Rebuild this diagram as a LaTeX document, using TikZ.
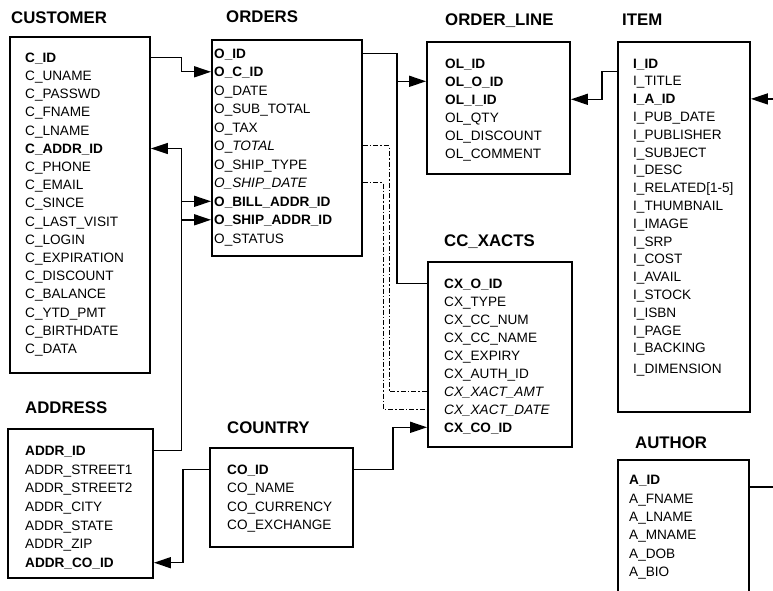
\documentclass[tikz,border=0pt]{standalone}
\usepackage{fontspec}
\setmainfont{Liberation Sans}
\usetikzlibrary{arrows.meta,fit,calc}
\begin{document}
\begin{tikzpicture}[x=1pt,y=-1pt,
  tbl/.style={draw, line width=1.8pt, inner sep=0pt},
  row/.style={anchor=west, inner sep=0pt, text height=9.7pt, text depth=0pt, font=\fontsize{13.6}{15}\selectfont},
  key/.style={row, font=\fontsize{13.6}{15}\selectfont\bfseries},
  ttl/.style={anchor=west, inner sep=0pt, text height=12pt, text depth=0pt, font=\fontsize{16.8}{19}\selectfont\bfseries},
  conn/.style={line width=1.4pt},
  arr/.style={conn, -{Triangle[length=17pt,width=11pt]}},
  dd/.style={line width=1pt, dash pattern=on 5pt off 2pt on 1.5pt off 2pt}]
\useasboundingbox (0,0) rectangle (773,591);
\fill[white] (0,0) rectangle (773,591);

% ---------- boxes ----------
\node[tbl, fit={(10,37) (150,373)}] (cust) {};
\node[tbl, fit={(212,40) (362,256)}] (ord) {};
\node[tbl, fit={(427,42) (570,174)}] (ol) {};
\node[tbl, fit={(618,42) (750,412)}] (item) {};
\node[tbl, fit={(428,262) (572,447)}] (cc) {};
\node[tbl, fit={(8,429) (153,578)}] (addr) {};
\node[tbl, fit={(210,448) (353,547)}] (ctry) {};
\node[tbl, fit={(618,460) (749,620)}] (auth) {};

% ---------- titles ----------
\node[ttl] (t_cust) at (11,17.5) {CUSTOMER};
\node[ttl] (t_ord) at (226,17) {ORDERS};
\node[ttl] (t_ol) at (445,20) {ORDER\_LINE};
\node[ttl] (t_item) at (622,20) {ITEM};
\node[ttl] (t_cc) at (444,240) {CC\_XACTS};
\node[ttl] (t_addr) at (25,407) {ADDRESS};
\node[ttl] (t_ctry) at (227,427) {COUNTRY};
\node[ttl] (t_auth) at (635,442) {AUTHOR};

% ---------- CUSTOMER ----------
\node[key] (c_id) at (25,57.5) {C\_ID};
\node[row] (c_uname) at (25,75.7) {C\_UNAME};
\node[row] (c_passwd) at (25,93.9) {C\_PASSWD};
\node[row] (c_fname) at (25,112.1) {C\_FNAME};
\node[row] (c_lname) at (25,130.3) {C\_LNAME};
\node[key] (c_addr_id) at (25,148.5) {C\_ADDR\_ID};
\node[row] (c_phone) at (25,166.7) {C\_PHONE};
\node[row] (c_email) at (25,184.9) {C\_EMAIL};
\node[row] (c_since) at (25,203.1) {C\_SINCE};
\node[row] (c_last) at (25,221.3) {C\_LAST\_VISIT};
\node[row] (c_login) at (25,239.5) {C\_LOGIN};
\node[row] (c_exp) at (25,257.7) {C\_EXPIRATION};
\node[row] (c_disc) at (25,275.9) {C\_DISCOUNT};
\node[row] (c_bal) at (25,294.1) {C\_BALANCE};
\node[row] (c_ytd) at (25,312.3) {C\_YTD\_PMT};
\node[row] (c_birth) at (25,330.5) {C\_BIRTHDATE};
\node[row] (c_data) at (25,348.7) {C\_DATA};

% ---------- ORDERS ----------
\node[key] (o_id) at (214,53.3) {O\_ID};
\node[key] (o_c_id) at (214,71.8) {O\_C\_ID};
\node[row] (o_date) at (214,90.3) {O\_DATE};
\node[row] (o_sub) at (214,108.8) {O\_SUB\_TOTAL};
\node[row] (o_tax) at (214,127.3) {O\_TAX};
\node[row] (o_total) at (214,145.8) {O\_\textit{TOTAL}};
\node[row] (o_stype) at (214,164.3) {O\_SHIP\_TYPE};
\node[row] (o_sdate) at (214,182.8) {\textit{O\_SHIP\_DATE}};
\node[key] (o_bill) at (214,201.3) {O\_BILL\_ADDR\_ID};
\node[key] (o_ship) at (214,219.8) {O\_SHIP\_ADDR\_ID};
\node[row] (o_status) at (214,238.3) {O\_STATUS};

% ---------- ORDER_LINE ----------
\node[key] (ol_id) at (445,63.3) {OL\_ID};
\node[key] (ol_o_id) at (445,81.3) {OL\_O\_ID};
\node[key] (ol_i_id) at (445,99.3) {OL\_I\_ID};
\node[row] (ol_qty) at (445,117.3) {OL\_QTY};
\node[row] (ol_disc) at (445,135.3) {OL\_DISCOUNT};
\node[row] (ol_comm) at (445,153.3) {OL\_COMMENT};

% ---------- ITEM ----------
\node[key] (i_id) at (633,63.3) {I\_ID};
\node[row] (i_title) at (633,81.1) {I\_TITLE};
\node[key] (i_a_id) at (633,98.9) {I\_A\_ID};
\node[row] (i_pub) at (633,116.7) {I\_PUB\_DATE};
\node[row] (i_publ) at (633,134.5) {I\_PUBLISHER};
\node[row] (i_subj) at (633,152.3) {I\_SUBJECT};
\node[row] (i_desc) at (633,170.1) {I\_DESC};
\node[row] (i_rel) at (633,187.9) {I\_RELATED[1-5]};
\node[row] (i_thumb) at (633,205.7) {I\_THUMBNAIL};
\node[row] (i_image) at (633,223.5) {I\_IMAGE};
\node[row] (i_srp) at (633,241.3) {I\_SRP};
\node[row] (i_cost) at (633,259.1) {I\_COST};
\node[row] (i_avail) at (633,276.9) {I\_AVAIL};
\node[row] (i_stock) at (633,294.7) {I\_STOCK};
\node[row] (i_isbn) at (633,312.5) {I\_ISBN};
\node[row] (i_page) at (633,330.3) {I\_PAGE};
\node[row] (i_back) at (633,348.1) {I\_BACKING};
\node[row] (i_dim) at (633,369) {I\_DIMENSION};

% ---------- CC_XACTS ----------
\node[key] (cx_o_id) at (444,283.3) {CX\_O\_ID};
\node[row] (cx_type) at (444,301.3) {CX\_TYPE};
\node[row] (cx_num) at (444,319.3) {CX\_CC\_NUM};
\node[row] (cx_name) at (444,337.3) {CX\_CC\_NAME};
\node[row] (cx_exp) at (444,355.3) {CX\_EXPIRY};
\node[row] (cx_auth) at (444,373.3) {CX\_AUTH\_ID};
\node[row] (cx_amt) at (444,391.3) {\textit{CX\_XACT\_AMT}};
\node[row] (cx_date) at (444,409.3) {\textit{CX\_XACT\_DATE}};
\node[key] (cx_co_id) at (444,427.3) {CX\_CO\_ID};

% ---------- ADDRESS ----------
\node[key] (addr_id) at (25,450.7) {ADDR\_ID};
\node[row] (addr_s1) at (25,469.4) {ADDR\_STREET1};
\node[row] (addr_s2) at (25,488.0) {ADDR\_STREET2};
\node[row] (addr_city) at (25,506.7) {ADDR\_CITY};
\node[row] (addr_state) at (25,525.4) {ADDR\_STATE};
\node[row] (addr_zip) at (25,544.0) {ADDR\_ZIP};
\node[key] (addr_co_id) at (25,562.7) {ADDR\_CO\_ID};

% ---------- COUNTRY ----------
\node[key] (co_id) at (227,469.3) {CO\_ID};
\node[row] (co_name) at (227,487.9) {CO\_NAME};
\node[row] (co_cur) at (227,506.5) {CO\_CURRENCY};
\node[row] (co_exch) at (227,525.1) {CO\_EXCHANGE};

% ---------- AUTHOR ----------
\node[key] (au_id) at (629,480) {A\_ID};
\node[row] (au_fn) at (629,498.3) {A\_FNAME};
\node[row] (au_ln) at (629,516.6) {A\_LNAME};
\node[row] (au_mn) at (629,534.9) {A\_MNAME};
\node[row] (au_dob) at (629,553.2) {A\_DOB};
\node[row] (au_bio) at (629,571.5) {A\_BIO};

% ---------- routing columns ----------
\coordinate (vx) at (181.5,0);
\coordinate (vo) at (397,0);
\coordinate (vi) at (602,0);
\coordinate (ve) at (800,0);
\coordinate (vd1) at (389,0);
\coordinate (vd2) at (383,0);
\coordinate (vc) at (393,0);
\coordinate (va) at (183,0);

% ---------- connectors ----------
\draw[arr] (c_id.west -| cust.east) -| (o_c_id.west -| vx) -- (o_c_id.west -| ord.west);
\draw[conn] (addr_id.west -| addr.east) -| (c_addr_id.west -| vx);
\draw[arr] (c_addr_id.west -| vx) -- (c_addr_id.west -| cust.east);
\draw[arr] (o_bill.west -| vx) -- (o_bill.west -| ord.west);
\draw[arr] (o_ship.west -| vx) -- (o_ship.west -| ord.west);

\draw[conn] (o_id.west -| ord.east) -| (cx_o_id.west -| vo) -- (cx_o_id.west -| cc.west);
\draw[arr] (ol_o_id.west -| vo) -- (ol_o_id.west -| ol.west);

\draw[arr] ($(i_id.west -| item.west)+(0,8)$) -| (ol_i_id.west -| vi) -- (ol_i_id.west -| ol.east);
\draw[arr] ($(au_id.west -| auth.east)+(0,7)$) -| (i_a_id.west -| ve) -- (i_a_id.west -| item.east);

\draw[dd] (o_total.west -| ord.east) -| (cx_amt.west -| vd1) -- (cx_amt.west -| cc.west);
\draw[dd] (o_sdate.west -| ord.east) -| (cx_date.west -| vd2) -- (cx_date.west -| cc.west);

\draw[arr] (co_id.west -| ctry.east) -| (cx_co_id.west -| vc) -- (cx_co_id.west -| cc.west);
\draw[arr] (co_id.west -| ctry.west) -| (addr_co_id.west -| va) -- (addr_co_id.west -| addr.east);
\end{tikzpicture}
\end{document}
